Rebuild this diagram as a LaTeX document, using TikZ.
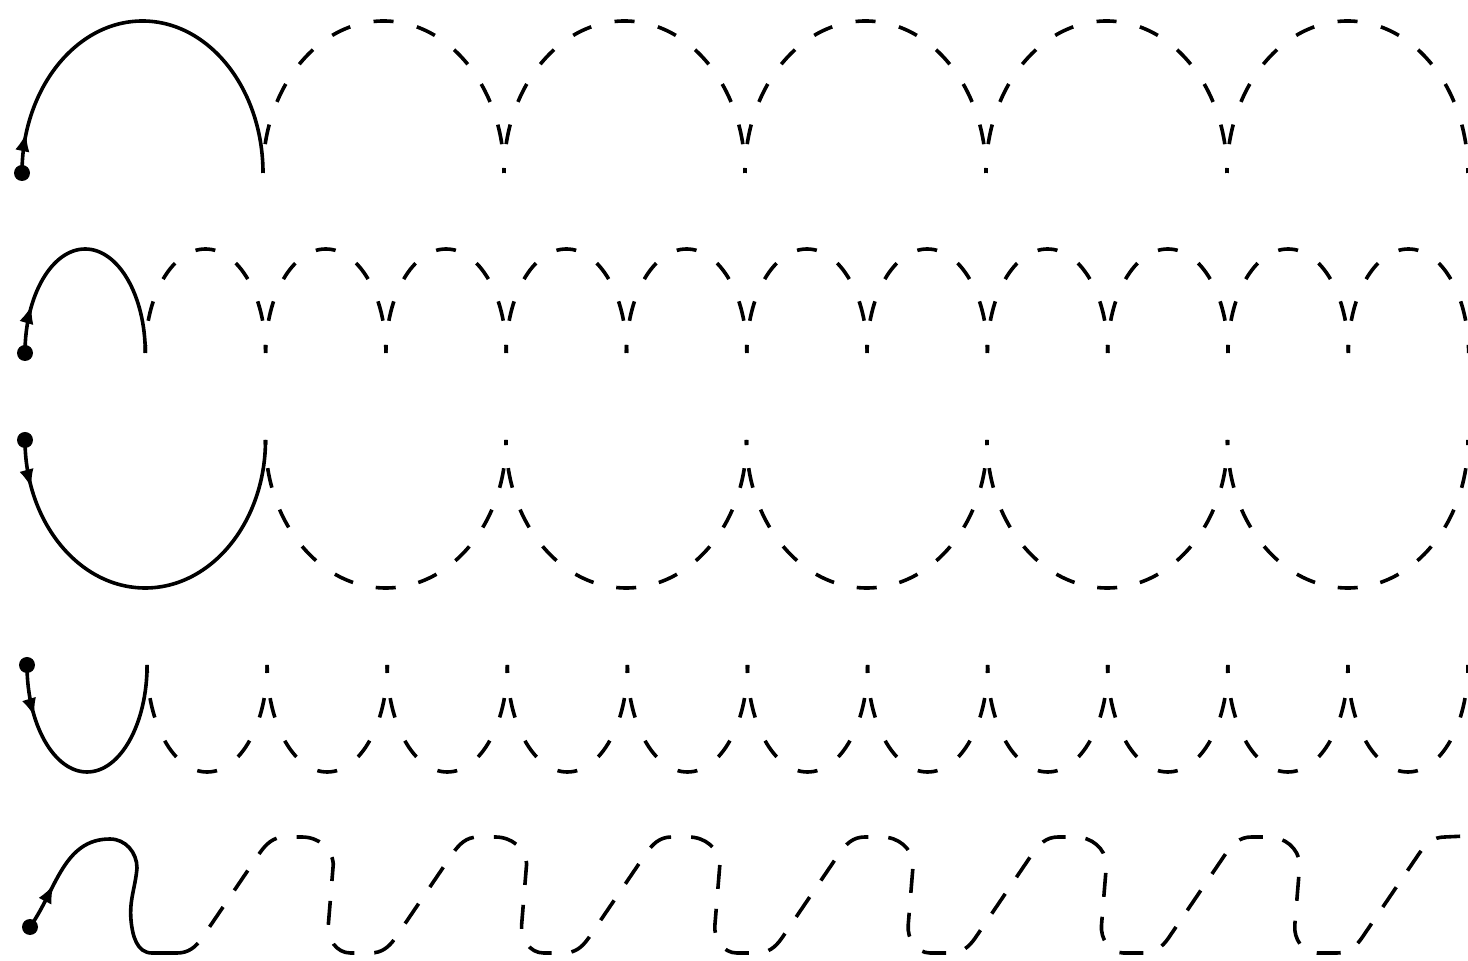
\documentclass[tikz,border=0pt]{standalone}
\usetikzlibrary{arrows.meta,decorations.markings}

\begin{document}
\begin{tikzpicture}[x=0.25mm,y=0.25mm,line width=0.9mm,
  trace/.style={dash pattern=on 5mm off #1,dash phase=3.75mm},
  tracesmall/.style={dash pattern=on 5mm off #1,dash phase=3mm},
  wave/.style={dash pattern=on 6mm off 5mm},
  firstarrow/.style={postaction={decorate,decoration={markings,mark=at position #1 with {\arrow[line width=0.5mm]{Latex[length=4.5mm,width=3.6mm]}}}}}]
\useasboundingbox (0,0) rectangle (1468,960);
% big arches
\draw[firstarrow=10mm] (22,787) arc[start angle=180,end angle=0,x radius=120.5,y radius=152];
\fill (22,787) circle[radius=8];
\foreach \i in {1,...,5}
  \draw[trace=5.99mm] (22+241*\i,787) arc[start angle=180,end angle=0,x radius=120.5,y radius=152];
% small arches
\draw[firstarrow=12mm] (25,607) arc[start angle=180,end angle=0,x radius=60.15,y radius=104];
\fill (25,607) circle[radius=8];
\foreach \i in {1,...,11}
  \draw[tracesmall=6.1mm] (25+120.3*\i,607) arc[start angle=180,end angle=0,x radius=60.15,y radius=104];
% big bowls
\draw[firstarrow=12mm] (25,520) arc[start angle=180,end angle=360,x radius=120.25,y radius=148];
\fill (25,520) circle[radius=8];
\foreach \i in {1,...,5}
  \draw[trace=5.81mm] (25+240.5*\i,520) arc[start angle=180,end angle=360,x radius=120.25,y radius=148];
% small bowls
\draw[firstarrow=13mm] (27,295) arc[start angle=180,end angle=360,x radius=60.04,y radius=107];
\fill (27,295) circle[radius=8];
\foreach \i in {1,...,11}
  \draw[tracesmall=6.32mm] (27+120.08*\i,295) arc[start angle=180,end angle=360,x radius=60.04,y radius=107];
% wave
\draw[firstarrow=12mm] (30,33) to[out=55,in=180] (110,121) to[out=0,in=90] (137,92) to[out=-95,in=95] (131,40) to[out=-85,in=180] (152,7) -- (177,7);
\fill (30,33) circle[radius=8];
\draw[wave] (177,7) \foreach \k [evaluate=\k as \v using 137+193.3*\k] in {0,...,5}{
  -- (\v+40,7) to[out=0,in=235] (\v+65,22) -- (\v+122,106) to[out=55,in=180] (\v+148,123)
  -- (\v+165,123) to[out=0,in=95] (\v+196.3,96) -- (\v+191.3,35) to[out=-95,in=180] (\v+213.3,7)}
  -- (1336.8,7) to[out=0,in=235] (1361.8,22) -- (1418.8,106) to[out=55,in=180] (1444.8,123) -- (1466,124);
\end{tikzpicture}
\end{document}
